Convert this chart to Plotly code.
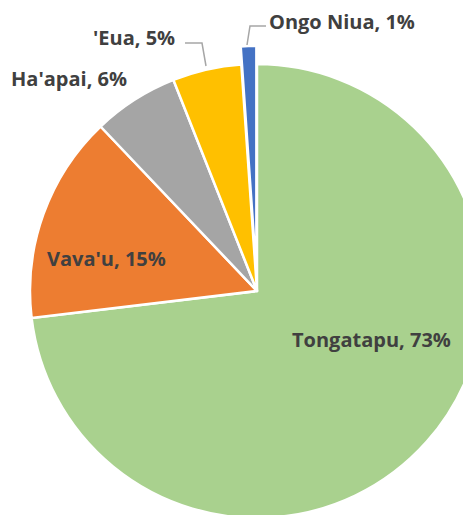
import plotly.graph_objects as go

labels = ["Tongatapu", "Vava'u", "Ha'apai", "'Eua", "Ongo Niua"]
values = [73.1, 14.8, 6.1, 4.9, 1.1]
colors = ["#A9D18E", "#ED7D31", "#A5A5A5", "#FFC000", "#4472C4"]
pulls = [0, 0, 0, 0, 0.08]

OFF = 8  # page body margin
W, H = 500, 566
CX, CY, R = 257 - OFF, 291 - OFF, 227
half = R * (1 + max(pulls))

fig = go.Figure(go.Pie(
    labels=labels, values=values, sort=False, direction="clockwise", rotation=0,
    marker=dict(colors=colors, line=dict(color="white", width=2.5)),
    pull=pulls, textinfo="none", hoverinfo="label+percent",
    domain=dict(x=[(CX - half) / W, (CX + half) / W],
                y=[1 - (CY + half) / H, 1 - (CY - half) / H]),
))

def px(x, y):
    return (x - OFF) / W, 1 - (y - OFF) / H

total = sum(values)
pct = [round(v / total * 100) for v in values]
label_pos = [(371, 340), (106, 258), (69, 78), (134, 37), (342, 21)]
anns = []
for (lx, ly), lab, p in zip(label_pos, labels, pct):
    ax_, ay_ = px(lx, ly)
    anns.append(dict(x=ax_, y=ay_, xref="paper", yref="paper",
                     xanchor="center", yanchor="middle", borderpad=0,
                     text=f"<b>{lab}, {p}%</b>", showarrow=False,
                     font=dict(family="Open Sans", size=20, color="#404040")))

def pth(pts):
    return "M " + " L ".join("{},{}".format(*px(x, y)) for x, y in pts)

shapes = [
    dict(type="path", xref="paper", yref="paper", path=pth([(185, 43), (202, 43), (206, 66)]),
         line=dict(color="#A6A6A6", width=1.5)),
    dict(type="path", xref="paper", yref="paper", path=pth([(247, 45), (250, 26), (266, 26)]),
         line=dict(color="#A6A6A6", width=1.5)),
]

fig.update_layout(width=W, height=H, margin=dict(l=0, r=0, t=0, b=0),
                  paper_bgcolor="white", showlegend=False,
                  annotations=anns, shapes=shapes)
fig.write_html("out.html")
